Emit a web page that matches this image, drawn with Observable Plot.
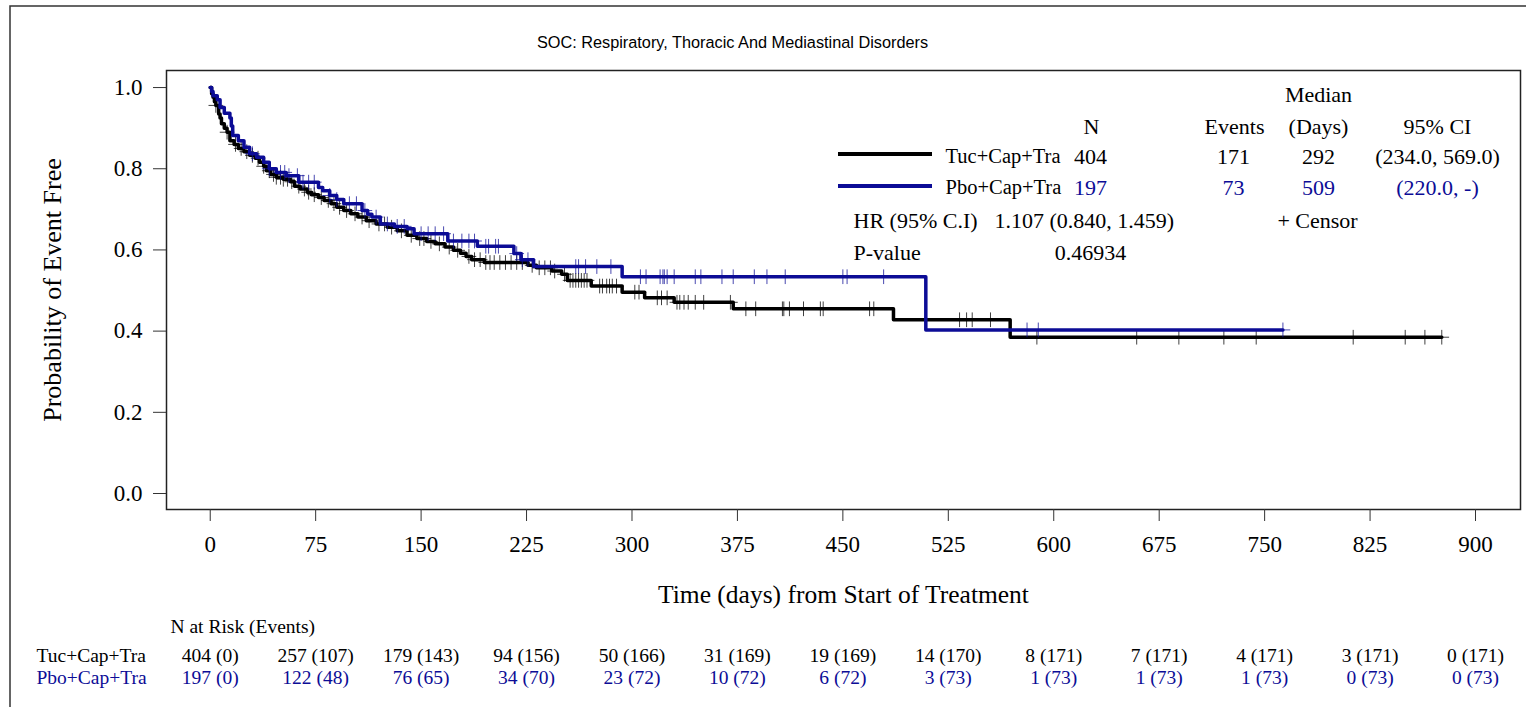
<!DOCTYPE html>
<html>
<head>
<meta charset="utf-8">
<script src="https://cdn.jsdelivr.net/npm/d3@7"></script>
<script src="https://cdn.jsdelivr.net/npm/@observablehq/plot@0.6"></script>
<style>
html, body { margin: 0; padding: 0; background: #fff; }
#chart { width: 1526px; height: 707px; overflow: hidden; }
</style>
</head>
<body>
<div id="chart"></div>
<script>
// ---------------- DATA ----------------
const title = "SOC: Respiratory, Thoracic And Mediastinal Disorders";
const arms = ["Tuc+Cap+Tra", "Pbo+Cap+Tra"];

// Kaplan-Meier step points (time in days, survival probability)
const tucTimes = [0, 1, 2, 3, 4, 6, 7, 8, 10, 12, 14, 17, 20, 24, 28, 32, 35, 38, 40, 43, 47, 52, 57, 60, 64, 69, 72, 77, 81, 86, 90, 95, 100, 105, 111, 118, 126, 133, 140, 147, 154, 160, 167, 173, 178, 182, 186, 195, 226, 232, 243, 250, 254, 271, 293, 309, 330, 372, 486, 569, 876];
const tucSurv  = [1.000, 0.985, 0.976, 0.965, 0.956, 0.935, 0.925, 0.911, 0.900, 0.890, 0.869, 0.860, 0.850, 0.842, 0.833, 0.826, 0.816, 0.806, 0.795, 0.786, 0.779, 0.774, 0.768, 0.757, 0.750, 0.742, 0.736, 0.729, 0.722, 0.714, 0.705, 0.697, 0.689, 0.681, 0.672, 0.664, 0.656, 0.647, 0.636, 0.628, 0.621, 0.615, 0.607, 0.599, 0.592, 0.584, 0.576, 0.569, 0.562, 0.556, 0.548, 0.540, 0.525, 0.511, 0.496, 0.482, 0.471, 0.455, 0.428, 0.385, 0.385];

const pboTimes = [0, 1, 2, 5, 7, 10, 14, 15, 16, 20, 24, 28, 33, 38, 42, 47, 54, 63, 77, 80, 85, 90, 95, 108, 112, 115, 121, 131, 140, 145, 169, 190, 216, 221, 230, 293, 509, 763];
const pboSurv  = [1.000, 0.990, 0.980, 0.970, 0.951, 0.937, 0.925, 0.905, 0.882, 0.869, 0.853, 0.837, 0.828, 0.816, 0.800, 0.791, 0.783, 0.767, 0.754, 0.746, 0.734, 0.724, 0.714, 0.697, 0.688, 0.681, 0.664, 0.658, 0.652, 0.640, 0.622, 0.609, 0.591, 0.576, 0.559, 0.534, 0.403, 0.403];

// Censoring times (days)
const tucCensor = [4, 12, 18, 22, 26, 30, 34, 38, 42, 45, 47, 50, 52, 55, 58, 63, 67, 70, 74, 79, 84, 88, 92, 97, 103, 108, 113, 120, 124, 129, 136, 143, 149, 152, 157, 163, 170, 176, 184, 188, 192, 196, 199, 202, 206, 210, 214, 218, 222, 229, 234, 238, 242, 245, 252, 256, 258, 260, 262, 264, 266, 268, 277, 279, 282, 284, 286, 289, 302, 305, 318, 321, 325, 332, 334, 337, 340, 345, 351, 370, 381, 388, 407, 408, 412, 422, 434, 436, 469, 472, 533, 538, 542, 555, 588, 659, 689, 721, 744, 813, 850, 864, 876];
const pboCensor = [30, 42, 50, 53, 56, 62, 66, 70, 74, 85, 90, 99, 104, 110, 118, 126, 133, 138, 150, 155, 160, 166, 173, 179, 184, 188, 196, 198, 203, 205, 218, 222, 226, 260, 262, 267, 275, 285, 306, 310, 320, 322, 323, 325, 330, 345, 349, 364, 372, 387, 396, 409, 450, 453, 479, 581, 589, 763];

// Axis ticks
const xTicks = [0, 75, 150, 225, 300, 375, 450, 525, 600, 675, 750, 825, 900];
const yTicks = [0.0, 0.2, 0.4, 0.6, 0.8, 1.0];

// Number at risk (events)
const riskTimes = [0, 75, 150, 225, 300, 375, 450, 525, 600, 675, 750, 825, 900];
const tucRisk = ["404 (0)", "257 (107)", "179 (143)", "94 (156)", "50 (166)", "31 (169)", "19 (169)", "14 (170)", "8 (171)", "7 (171)", "4 (171)", "3 (171)", "0 (171)"];
const pboRisk = ["197 (0)", "122 (48)", "76 (65)", "34 (70)", "23 (72)", "10 (72)", "6 (72)", "3 (73)", "1 (73)", "1 (73)", "1 (73)", "0 (73)", "0 (73)"];

// Summary statistics
const statN = ["404", "197"];
const statEvents = ["171", "73"];
const statMedian = ["292", "509"];
const statCI = ["(234.0, 569.0)", "(220.0, -)"];
const hrText = "1.107 (0.840, 1.459)";
const pValue = "0.46934";

// ---------------- LAYOUT ----------------
const W = 1526, H = 707;
const ML = 166, MT = 70, MR = 6, MB = 198;
const BLUE = "#0c0c96";
const SERIF = "'Liberation Serif', 'Times New Roman', serif";
const SANS = "'Liberation Sans', Arial, sans-serif";

const curveRows = (times, surv, arm) => times.map((t, i) => ({t, s: surv[i], arm}));
const survAt = (times, surv, t) => {
  let s = surv[0];
  for (let i = 0; i < times.length; i++) { if (times[i] <= t) s = surv[i]; else break; }
  return s;
};
const tucCurve = curveRows(tucTimes, tucSurv, arms[0]);
const pboCurve = curveRows(pboTimes, pboSurv, arms[1]);
const tucCens = tucCensor.map(t => ({t, s: survAt(tucTimes, tucSurv, t), arm: arms[0]}));
const pboCens = pboCensor.map(t => ({t, s: survAt(pboTimes, pboSurv, t), arm: arms[1]}));

// text placed in figure pixels, expressed relative to the frame's top-left
const T = (text, ax, ay, o = {}) => Plot.text([text], {
  text: d => d, frameAnchor: "top-left", dx: ax - ML, dy: ay - MT,
  textAnchor: "start", lineAnchor: "middle", fontSize: 22, fill: "black", ...o
});

const legendMarks = [
  T("Median", 1318, 94, {textAnchor: "middle"}),
  T("N", 1091, 126, {textAnchor: "middle"}),
  T("Events", 1234, 126, {textAnchor: "middle"}),
  T("(Days)", 1318, 126, {textAnchor: "middle"}),
  T("95% CI", 1437, 126, {textAnchor: "middle"}),
  ...[0, 1].flatMap(i => {
    const y = i === 0 ? 156 : 187;
    const fill = i === 0 ? "black" : BLUE;
    return [
      T(arms[i], 945, y, {fill: "black", fontSize: 20.5}),
      T(statN[i], 1090, y, {textAnchor: "middle", fill}),
      T(statEvents[i], 1233, y, {textAnchor: "middle", fill}),
      T(statMedian[i], 1318, y, {textAnchor: "middle", fill}),
      T(statCI[i], 1437, y, {textAnchor: "middle", fill})
    ];
  }),
  T("HR (95% C.I)", 853, 220),
  T(hrText, 994, 220),
  T("+ Censor", 1317, 220, {textAnchor: "middle"}),
  T("P-value", 853, 252),
  T(pValue, 1090, 252, {textAnchor: "middle"})
];

const riskMarks = [
  T("N at Risk (Events)", 170, 626, {fontSize: 19.5}),
  T(arms[0], 36, 655, {fontSize: 19.5}),
  T(arms[1], 36, 677, {fontSize: 19.5, fill: BLUE}),
  Plot.text(riskTimes, {x: d => d, text: (d, i) => tucRisk[i], frameAnchor: "bottom", dy: 655 - (H - MB), fontSize: 19.5, fill: "black", lineAnchor: "middle"}),
  Plot.text(riskTimes, {x: d => d, text: (d, i) => pboRisk[i], frameAnchor: "bottom", dy: 677 - (H - MB), fontSize: 19.5, fill: BLUE, lineAnchor: "middle"})
];

const plot = Plot.plot({
  width: W, height: H,
  marginLeft: ML, marginTop: MT, marginRight: MR, marginBottom: MB,
  style: {fontFamily: SERIF, background: "white", overflow: "visible", color: "black"},
  x: {domain: [-31.1, 932]},
  y: {domain: [-0.0394, 1.042]},
  color: {domain: arms, range: ["black", BLUE]},
  marks: [
    Plot.frame({stroke: "#222", strokeWidth: 1.5}),
    Plot.axisY({ticks: yTicks, tickFormat: d => d.toFixed(1), tickSize: 13, tickPadding: 11, fontSize: 23, label: null, stroke: "#333"}),
    Plot.axisX({ticks: xTicks, tickSize: 12, tickPadding: 14, fontSize: 23, label: null, stroke: "#333"}),
    Plot.text(["Probability of Event Free"], {text: d => d, frameAnchor: "left", dx: 52 - ML, rotate: -90, textAnchor: "middle", lineAnchor: "middle", fontSize: 26, fill: "black"}),
    Plot.text(["Time (days) from Start of Treatment"], {text: d => d, frameAnchor: "bottom", dy: 594 - (H - MB), fontSize: 25.5, fill: "black", textAnchor: "middle", lineAnchor: "middle"}),
    T(title, 732, 42, {textAnchor: "middle", fontFamily: SANS, fontSize: 16.3}),
    Plot.line(tucCurve, {x: "t", y: "s", stroke: "arm", strokeWidth: 3.5, curve: "step-after"}),
    Plot.dot(tucCens, {x: "t", y: "s", stroke: "arm", symbol: "plus", r: 4.8, strokeWidth: 1, strokeOpacity: 0.75}),
    Plot.line(pboCurve, {x: "t", y: "s", stroke: "arm", strokeWidth: 3.5, curve: "step-after"}),
    Plot.dot(pboCens, {x: "t", y: "s", stroke: "arm", symbol: "plus", r: 4.8, strokeWidth: 1, strokeOpacity: 0.75}),
    ...legendMarks,
    ...riskMarks
  ]
});

// legend swatches and outer border (decoration)
const svg = d3.select(plot);
svg.append("line").attr("x1", 838).attr("x2", 932).attr("y1", 154).attr("y2", 154)
  .attr("stroke", "black").attr("stroke-width", 4);
svg.append("line").attr("x1", 838).attr("x2", 932).attr("y1", 186).attr("y2", 186)
  .attr("stroke", BLUE).attr("stroke-width", 4);
svg.append("path").attr("d", `M10,${H}V6H${W}`).attr("fill", "none")
  .attr("stroke", "#333").attr("stroke-width", 1.5);

document.getElementById("chart").appendChild(plot);
</script>
</body>
</html>
